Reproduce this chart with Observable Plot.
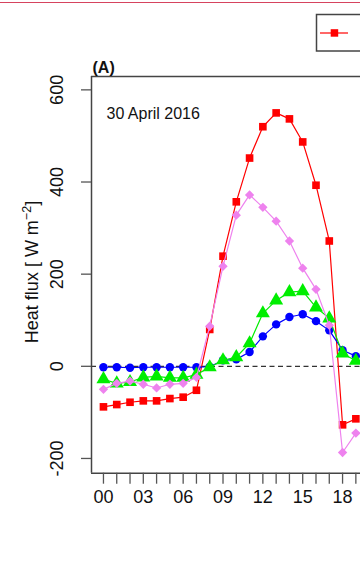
<!DOCTYPE html>
<html><head><meta charset="utf-8">
<script src="https://cdn.jsdelivr.net/npm/d3@7"></script>
<script src="https://cdn.jsdelivr.net/npm/@observablehq/plot@0.6"></script>
<style>
body{margin:0;background:#fff;font-family:"Liberation Sans",Arial,sans-serif;}
#wrap{position:relative;width:360px;height:571px;overflow:hidden}
#topline{position:absolute;left:0;top:2px;width:360px;height:1px;background:#d6435e}
#chart{position:absolute;left:0;top:0}
</style></head><body><div id="wrap"><div id="chart"></div><div id="topline"></div></div>
<script>
const hours = [0,1,2,3,4,5,6,7,8,9,10,11,12,13,14,15,16,17,18,19];
const seriesNames = ["Rn", "LE", "H", "G"];
const seriesColors = ["#ff0000", "#ee82ee", "#00ee00", "#0000ff"];
const seriesSymbols = ["square", "diamond2", "triangle", "circle"];
const valuesRn = [-88,-83,-78,-75,-75,-70,-67,-52,80,239,357,452,520,550,537,487,393,272,-127,-114];
const valuesLE = [-50,-37,-32,-39,-47,-39,-37,-24,87,217,328,372,345,315,272,213,167,89,-187,-145];
const valuesH  = [-28,-37,-34,-24,-22,-25,-25,-18,-2,13,20,50,115,143,161,163,128,104,28,12];
const valuesG  = [-2,-2,-3,-2,-2,-2,-2,-2,-1,13,15,31,65,91,107,113,98,78,35,22];
const yTicks = [-200, 0, 200, 400, 600];
const xLabelHours = [0,3,6,9,12,15,18];
const panelLabel = "(A)";
const dateLabel = "30 April 2016";

const allValues = [valuesRn, valuesLE, valuesH, valuesG];
const rows = allValues.flatMap((vals, i) => vals.map((v, j) => ({series: seriesNames[i], hour: hours[j], value: v})));
const drawOrder = [0, 3, 2, 1];
const symbolR = {square: 4.3, diamond2: 4.2, triangle: 5.2, circle: 4.2};

const xDomain = [-0.9, 19.35];
const yDomain = [-232, 629];

const seriesMarks = drawOrder.flatMap(i => {
  const d = rows.filter(r => r.series === seriesNames[i]);
  return [
    Plot.line(d, {x: "hour", y: "value", stroke: seriesColors[i], strokeWidth: 1.2}),
    Plot.dot(d, {x: "hour", y: "value", fill: seriesColors[i], stroke: "none", symbol: () => seriesSymbols[i], r: symbolR[seriesSymbols[i]]})
  ];
});

const plot = Plot.plot({
  width: 360,
  height: 571,
  marginLeft: 91,
  marginRight: 0,
  marginTop: 76,
  marginBottom: 98.3,
  style: {fontFamily: '"Liberation Sans", Arial, sans-serif', background: "white", overflow: "hidden"},
  x: {domain: xDomain},
  y: {domain: yDomain},
  symbol: {type: "identity"},
  marks: [
    Plot.ruleY([0], {stroke: "#333", strokeDasharray: "5,3.5", strokeWidth: 1.3}),
    ...seriesMarks,
    Plot.ruleX([xDomain[0]], {stroke: "#444", strokeWidth: 1.5}),
    Plot.ruleY(yDomain, {stroke: "#444", strokeWidth: 1.5}),
    Plot.axisY({ticks: yTicks, tickSize: 10, tickRotate: -90, tickPadding: 19, fontSize: 18, stroke: "#555", strokeWidth: 1.3, fill: "#111", label: null,
      tickFormat: d => String(d)}),
    Plot.axisX({ticks: hours, tickSize: 11, tickPadding: 6, fontSize: 18, stroke: "#555", strokeWidth: 1.3, fill: "#111", label: null,
      tickFormat: d => xLabelHours.includes(d) ? d3.format("02d")(d) : ""}),
    Plot.text([panelLabel], {text: d => d, frameAnchor: "top-left", textAnchor: "start", lineAnchor: "bottom", dx: 1, dy: -4, fontSize: 16, fontWeight: "bold", fill: "#111"}),
    Plot.text([dateLabel], {text: d => d, frameAnchor: "top-left", textAnchor: "start", lineAnchor: "top", dx: 15, dy: 31, fontSize: 16, fill: "#111"})
  ]
});

const svg = d3.select(plot);
// y-axis title with superscript
const t = svg.append("text")
  .attr("transform", "translate(37.5,272) rotate(-90)")
  .attr("text-anchor", "middle")
  .attr("font-size", 18)
  .attr("fill", "#111");
t.append("tspan").text("Heat flux [ W m");
t.append("tspan").attr("dy", -7).attr("font-size", 12.5).text("−2");
t.append("tspan").attr("dy", 7).text("]");

// legend (only the first entry's symbol is inside the picture)
const lg = svg.append("g");
lg.append("rect").attr("x", 316.5).attr("y", 14.5).attr("width", 80).attr("height", 36.5)
  .attr("fill", "white").attr("stroke", "#444").attr("stroke-width", 1.5);
lg.append("line").attr("x1", 320).attr("x2", 348).attr("y1", 33).attr("y2", 33)
  .attr("stroke", seriesColors[0]).attr("stroke-width", 1.2);
lg.append("rect").attr("x", 330.7).attr("y", 29.2).attr("width", 7.5).attr("height", 7.5)
  .attr("fill", seriesColors[0]);

document.getElementById("chart").appendChild(plot);
</script>
</body></html>
